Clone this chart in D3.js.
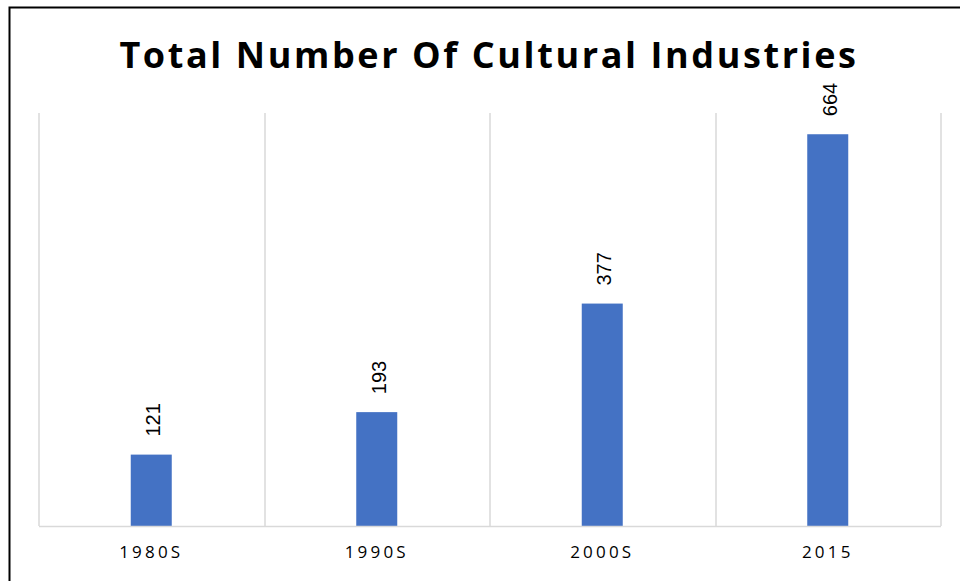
<!DOCTYPE html>
<html>
<head>
<meta charset="utf-8">
<script src="https://cdn.jsdelivr.net/npm/d3@7"></script>
<style>
  body { margin: 0; background: #fff; }
  svg { display: block; }
</style>
</head>
<body>
<div id="chart"></div>
<script>
// Chart data
const categories = ["1980S", "1990S", "2000S", "2015"];
const values = [121, 193, 377, 664];
const yTicks = [0, 100, 200, 300, 400, 500, 600, 700];

const width = 960, height = 581;
const margin = { top: 113, right: 20, bottom: 55, left: 38.5 };
const plotW = 940.5 - margin.left, plotH = 526 - margin.top;

const svg = d3.select("#chart")
    .append("svg")
    .attr("width", width)
    .attr("height", height);

// Frame (top and left edges of the slide border)
svg.append("path")
    .attr("d", "M9.5,581 V7.5 H960")
    .attr("fill", "none")
    .attr("stroke", "#000")
    .attr("stroke-width", 2);

// Title
svg.append("text")
    .attr("x", 489)
    .attr("y", 67.5)
    .attr("text-anchor", "middle")
    .style("font-family", "'Open Sans', sans-serif")
    .style("font-weight", "bold")
    .style("font-size", "36px")
    .style("letter-spacing", "2.6px")
    .text("Total Number Of Cultural Industries");

const g = svg.append("g")
    .attr("transform", "translate(" + margin.left + "," + margin.top + ")");

const x = d3.scaleBand()
    .domain(categories)
    .range([0, plotW]);

const y = d3.scaleLinear()
    .domain([0, d3.max(yTicks)])
    .range([plotH, 0]);

// Vertical gridlines at category boundaries
const bounds = categories.map(c => x(c)).concat([plotW]);
g.selectAll(".grid")
    .data(bounds)
    .enter()
    .append("line")
    .attr("x1", d => Math.round(d) + 0.5)
    .attr("x2", d => Math.round(d) + 0.5)
    .attr("y1", 0)
    .attr("y2", plotH)
    .attr("stroke", "#d9d9d9")
    .attr("stroke-width", 1.5);

// Bars
const barW = 41;
g.selectAll(".bar")
    .data(values)
    .enter()
    .append("rect")
    .attr("x", (d, i) => x(categories[i]) + x.bandwidth() / 2 - barW / 2)
    .attr("width", barW)
    .attr("y", d => y(d))
    .attr("height", d => plotH - y(d))
    .attr("fill", "#4472c4");

// Bottom axis
const xAxis = g.append("g")
    .attr("transform", "translate(0," + plotH + ")")
    .call(d3.axisBottom(x).tickSize(0).tickPadding(20));
xAxis.select(".domain")
    .attr("stroke", "#d9d9d9")
    .attr("stroke-width", 1.5);
xAxis.selectAll("text")
    .style("font-family", "'Open Sans', sans-serif")
    .style("font-size", "17px")
    .style("letter-spacing", "3.2px")
    .attr("fill", "#000");

// Rotated value labels
g.selectAll(".label")
    .data(values)
    .enter()
    .append("text")
    .attr("transform", (d, i) => "translate(" + (x(categories[i]) + x.bandwidth() / 2 + 9) + "," + (y(d) - 18) + ") rotate(-90)")
    .attr("text-anchor", "start")
    .style("font-family", "'Liberation Sans', sans-serif")
    .style("font-size", "20px")
    .attr("fill", "#000")
    .text(d => d);
</script>
</body>
</html>
